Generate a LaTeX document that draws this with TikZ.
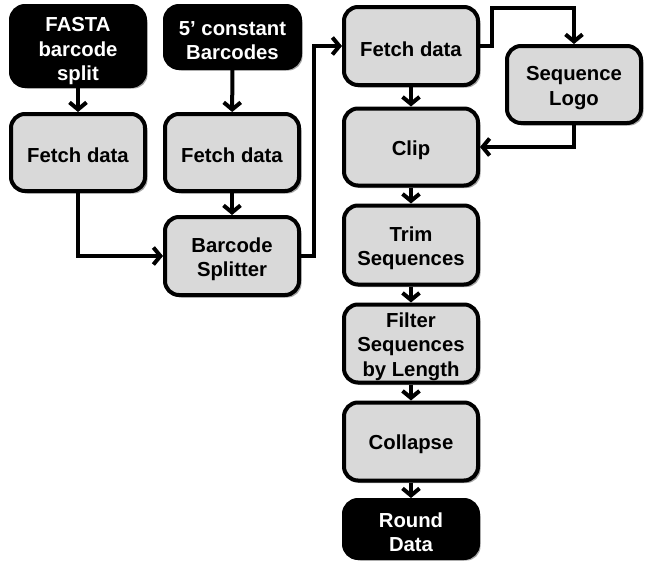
\documentclass[tikz,border=0pt]{standalone}
\usepackage{fontspec}
\setmainfont{Liberation Sans}
\usetikzlibrary{arrows.meta,shadows,positioning}
\newcommand{\tp}[1][21pt]{\rule{0pt}{#1}}
\begin{document}
\begin{tikzpicture}[x=1pt,y=-1pt,
  box/.style={draw=black,line width=4pt,rounded corners=14pt,fill=boxgray,
    minimum width=134pt,inner sep=0pt,align=center,
    font=\fontsize{20.3}{24.5}\selectfont\bfseries,
    drop shadow={shadow xshift=2.5pt,shadow yshift=-2.5pt,fill=black,opacity=0.35}},
  dark/.style={box,fill=black,text=white},
  arr/.style={line width=4pt,-{Straight Barb[length=7pt,width=17pt]}},
]
\definecolor{boxgray}{RGB}{217,217,217}
\useasboundingbox (0,0) rectangle (649,563);
\node[dark,minimum height=80pt] (fasta) at (78,46) {\tp[25pt]FASTA\\barcode\\split};
\node[box,minimum height=77pt] (fetchA) at (78,152.5) {\tp Fetch data};
\node[dark,minimum height=62pt,minimum width=135pt] (const) at (232.5,37) {\tp 5’ constant\\Barcodes};
\node[box,minimum height=77pt] (fetchB) at (232,152.5) {\tp Fetch data};
\node[box,minimum height=78pt] (split) at (232,256) {\tp Barcode\\Splitter};
\node[box,minimum height=78pt] (fetchC) at (411,46) {\tp Fetch data};
\node[box,minimum height=77pt] (logo) at (574,84.5) {\tp Sequence\\Logo};
\node[box,minimum height=77pt] (clip) at (411,147) {\tp Clip};
\node[box,minimum height=79pt] (trim) at (411,245) {\tp Trim\\Sequences};
\node[box,minimum height=78pt] (filter) at (411,343.5) {\tp Filter\\Sequences\\by Length};
\node[box,minimum height=78pt] (collapse) at (411,441.5) {\tp Collapse};
\node[dark,minimum height=58pt] (round) at (411,529) {\tp Round\\Data};
\draw[arr] (fasta) -- (fetchA);
\draw[arr] (const) -- (fetchB);
\draw[arr] (fetchB) -- (split);
\draw[arr] (fetchA.south) |- (split.west);
\draw[arr] (split.east) -- ++(13,0) |- (fetchC.west);
\draw[arr] (fetchC.east) -- ++(12,0) -- ++(0,-38) -| (logo.north);
\draw[arr] (logo.south) |- (clip.east);
\draw[arr] (fetchC) -- (clip);
\draw[arr] (clip) -- (trim);
\draw[arr] (trim) -- (filter);
\draw[arr] (filter) -- (collapse);
\draw[arr] (collapse) -- (round);
\end{tikzpicture}
\end{document}
